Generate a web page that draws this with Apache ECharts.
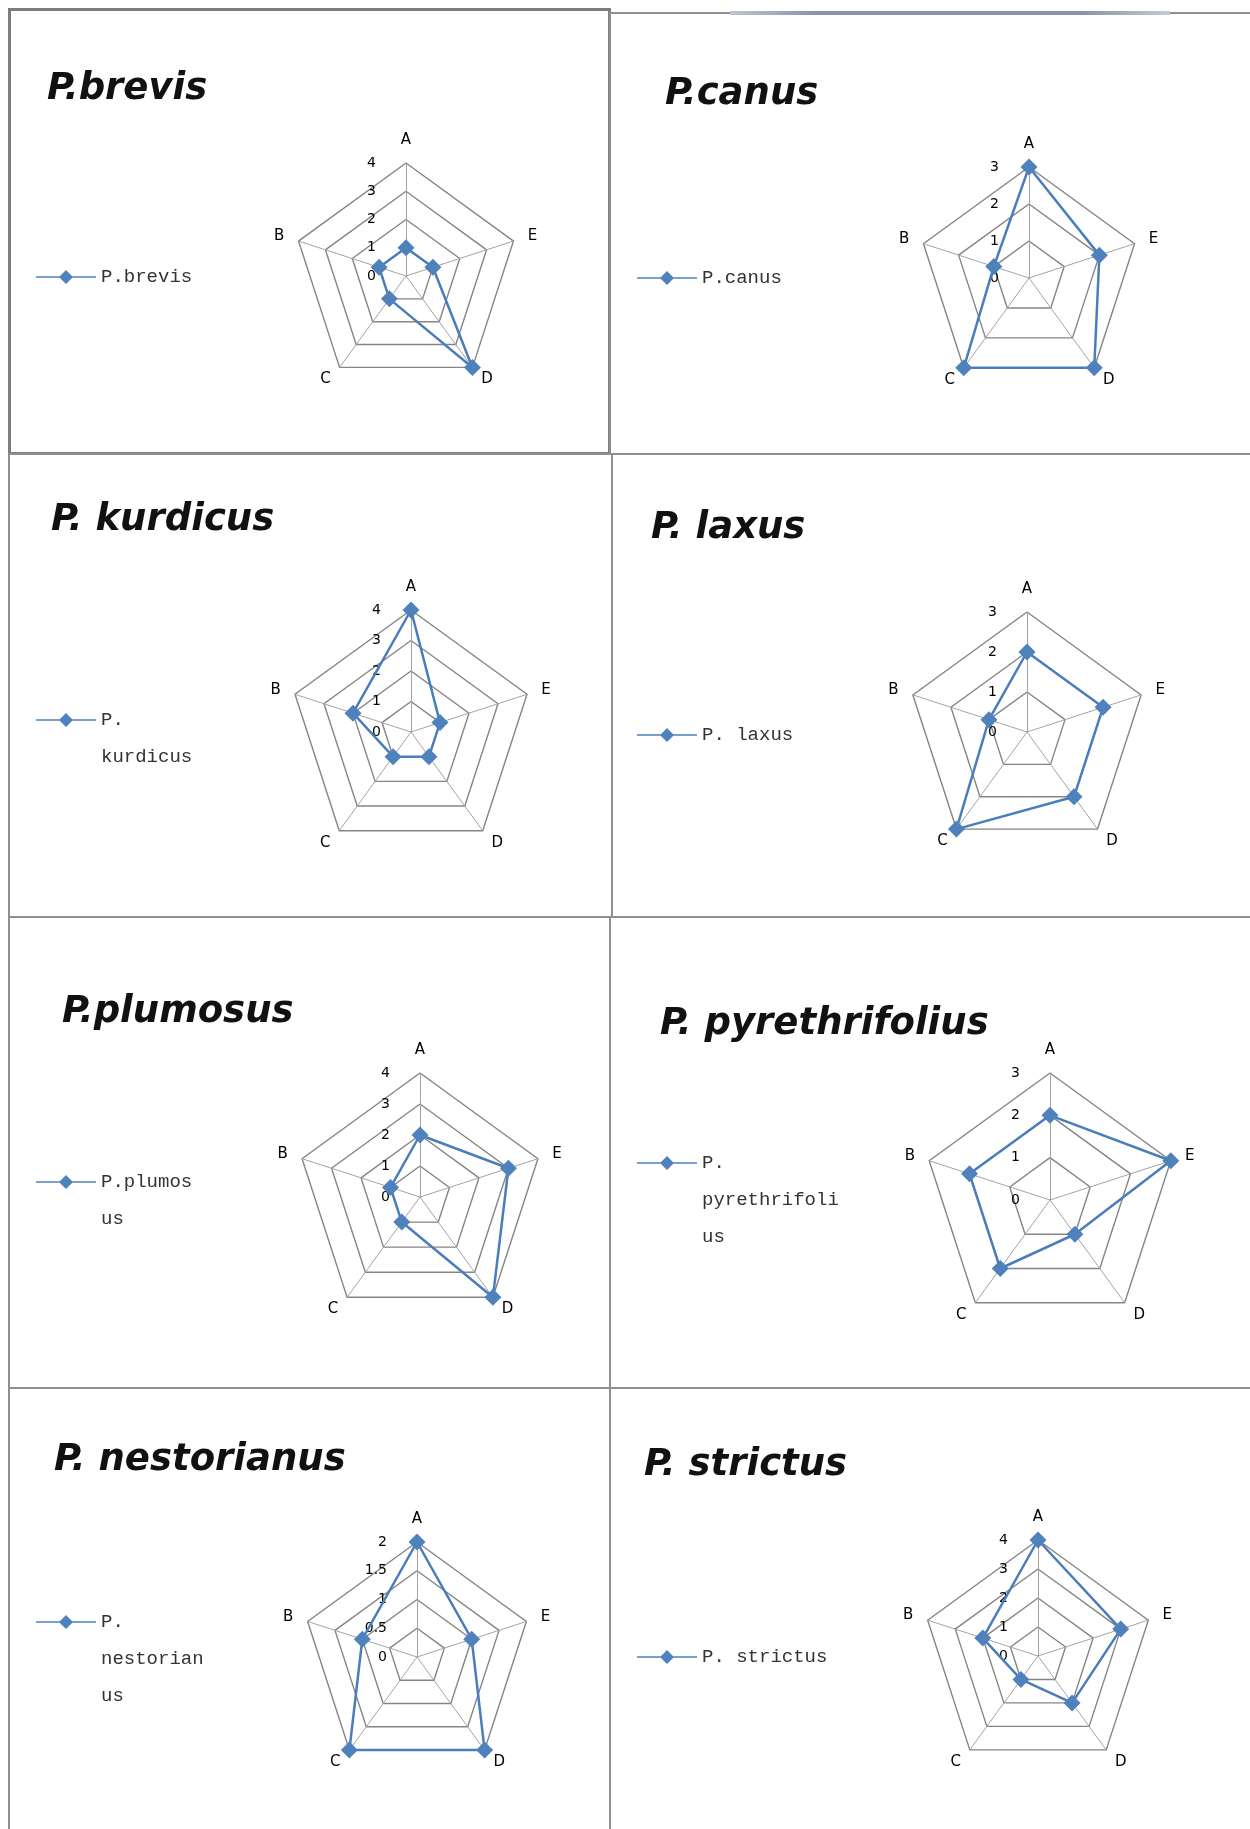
<!DOCTYPE html>
<html>
<head>
<meta charset="utf-8">
<title>Radar panels</title>
<script src="https://cdn.jsdelivr.net/npm/echarts@6/dist/echarts.min.js"></script>
<style>
html,body{margin:0;padding:0;background:#fff;}
#page{position:relative;width:1250px;height:1829px;overflow:hidden;background:#fff;}
.panel{position:absolute;box-sizing:border-box;border:2px solid #8f8f8f;}
.chart{position:absolute;}
</style>
</head>
<body>
<div id="page"></div>
<script>
// --- data ---
var indicatorNames = ['A', 'B', 'C', 'D', 'E'];
var species = ['P.brevis', 'P.canus', 'P. kurdicus', 'P. laxus',
               'P.plumosus', 'P. pyrethrifolius', 'P. nestorianus', 'P. strictus'];
// legend text as it wraps in the picture
var legendLabels = ['P.brevis', 'P.canus', 'P.\nkurdicus', 'P. laxus',
                    'P.plumos\nus', 'P.\npyrethrifoli\nus', 'P.\nnestorian\nus', 'P. strictus'];
// values in order A, B, C, D, E
var brevis         = [1, 1, 1, 4, 1];
var canus          = [3, 1, 3, 3, 2];
var kurdicus       = [4, 2, 1, 1, 1];
var laxus          = [2, 1, 3, 2, 2];
var plumosus       = [2, 1, 1, 4, 3];
var pyrethrifolius = [2, 2, 2, 1, 3];
var nestorianus    = [2, 1, 2, 2, 1];
var strictus       = [4, 2, 1, 2, 3];
var allValues = [brevis, canus, kurdicus, laxus, plumosus, pyrethrifolius, nestorianus, strictus];
var axisMax  = [4, 3, 4, 3, 4, 3, 2, 4];
var axisStep = [1, 1, 1, 1, 1, 1, 0.5, 1];

// --- layout (page px) ---
// panel box: left, top, right, bottom
var panels = [
  [8, 8, 611, 455], [609, 12, 1262, 455],
  [8, 453, 613, 918], [611, 453, 1262, 918],
  [8, 916, 611, 1389], [609, 916, 1262, 1389],
  [8, 1387, 611, 1842], [609, 1387, 1262, 1842]
];
var radarCenter = [[406, 276], [1029, 278], [411, 732], [1027, 732],
                   [420, 1197], [1050, 1200], [417, 1657], [1038, 1656]];
var radarRadius = [113, 111, 122, 120, 124, 127, 115, 116];
var titlePos = [[47, 89], [665, 94], [51, 520], [651, 528],
                [62, 1012], [660, 1024], [54, 1460], [644, 1465]];
var legendPos = [[36, 277], [637, 278], [36, 720], [637, 735],
                 [36, 1182], [637, 1163], [36, 1622], [637, 1657]];
var LH = 37; // legend line height

var page = document.getElementById('page');

function mk(cls, box) {
  var d = document.createElement('div');
  d.className = cls;
  d.style.left = box[0] + 'px';
  d.style.top = box[1] + 'px';
  d.style.width = (box[2] - box[0]) + 'px';
  d.style.height = (box[3] - box[1]) + 'px';
  page.appendChild(d);
  return d;
}

panels.forEach(function (b, i) {
  var p = mk('panel', b);
  if (i === 0) { p.style.borderWidth = '3px'; p.style.borderColor = '#7d7d7d'; }
});
// bluish strip on top of the second panel
var strip = document.createElement('div');
strip.style.cssText = 'position:absolute;left:730px;top:11px;width:440px;height:4px;' +
  'background:linear-gradient(to right,#b9c6d3,#8595a6 20%,#8595a6 80%,#c4ccd4);';
page.appendChild(strip);

var legendIcon = 'path://M0,6.2L60,6.2L60,7.8L0,7.8Z M30,0L37,7L30,14L23,7Z';

function buildOption(i) {
  var b = panels[i];
  var ox = b[0], oy = b[1];
  var nLines = legendLabels[i].split('\n').length;
  // blank lines on top keep the icon level with the first text line
  var legendText = new Array(nLines).join('\n') + legendLabels[i];
  var indicator = indicatorNames.map(function (n, k) {
    var o = {name: n, min: 0, max: axisMax[i]};
    if (k === 0) o.axisLabel = {show: true};
    return o;
  });
  return {
    animation: false,
    title: {
      text: species[i],
      left: titlePos[i][0] - ox,
      top: titlePos[i][1] - oy - 22,
      padding: 0,
      textStyle: {fontFamily: 'DejaVu Sans', fontStyle: 'italic', fontWeight: 'bold',
                  fontSize: 37, lineHeight: 44, color: '#111'}
    },
    legend: {
      left: legendPos[i][0] - ox,
      top: legendPos[i][1] - oy - (2 * nLines - 1) * LH / 2,
      padding: 0,
      itemWidth: 60,
      itemHeight: 14,
      icon: legendIcon,
      selectedMode: false,
      formatter: function () { return legendText; },
      textStyle: {fontFamily: 'Liberation Mono', fontSize: 19, color: '#333', lineHeight: LH}
    },
    radar: {
      center: [radarCenter[i][0] - ox, radarCenter[i][1] - oy],
      radius: radarRadius[i],
      startAngle: 90,
      splitNumber: Math.round(axisMax[i] / axisStep[i]),
      indicator: indicator,
      nameGap: 15,
      axisName: {color: '#000', fontSize: 15, fontFamily: 'DejaVu Sans'},
      axisLine: {lineStyle: {color: '#a3a3a3', width: 1}},
      splitLine: {lineStyle: {color: '#858585', width: 1.4}},
      splitArea: {show: false},
      axisTick: {show: false},
      axisLabel: {show: false, margin: 30, color: '#000', fontSize: 14, fontFamily: 'DejaVu Sans'}
    },
    series: [{
      type: 'radar',
      name: species[i],
      symbol: 'diamond',
      symbolSize: 17,
      lineStyle: {color: '#4a7ebb', width: 2.5},
      itemStyle: {color: '#4f81bd'},
      data: [{name: species[i], value: allValues[i]}]
    }]
  };
}

panels.forEach(function (b, i) {
  var d = mk('chart', b);
  var ch = echarts.init(d);
  ch.setOption(buildOption(i));
});
</script>
</body>
</html>
